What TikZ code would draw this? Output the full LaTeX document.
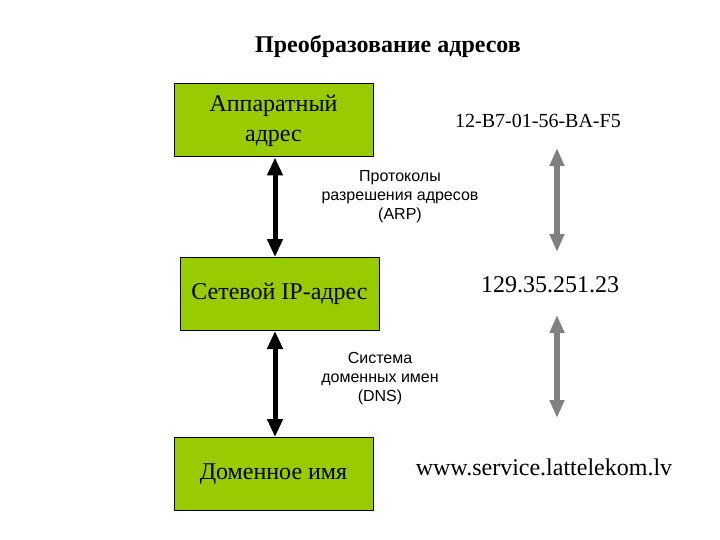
\documentclass[tikz,border=0pt]{standalone}
\usepackage{fontspec}
\setmainfont{Liberation Serif}
\newfontfamily\labelfont{Liberation Sans}
\usetikzlibrary{arrows.meta}
\definecolor{boxgreen}{RGB}{153,204,0}
\definecolor{arrowgray}{RGB}{128,128,128}

\begin{document}
\begin{tikzpicture}[x=1pt,y=-1pt,
    addrbox/.style={draw=black,line width=1pt,fill=boxgreen,minimum width=199pt,
      minimum height=73pt,inner sep=0pt,align=center,font=\fontsize{24}{30}\selectfont},
    layer/.style={align=center,font=\labelfont\fontsize{16}{19}\selectfont},
    addr/.style={font=\fontsize{24}{27}\selectfont},
    link/.style={line width=5pt,{Triangle[width=15pt,length=18pt]}-{Triangle[width=15pt,length=18pt]}},
    equiv/.style={draw=arrowgray,line width=6pt,
      {Triangle[width=14pt,length=18pt]}-{Triangle[width=14pt,length=18pt]}}]
  \useasboundingbox (0,0) rectangle (720,540);
  \fill[white] (0,0) rectangle (720,540);
  \node[font=\bfseries\fontsize{24}{27}\selectfont] (title) at (388,46) {Преобразование адресов};
  % left column: kinds of address
  \node[addrbox] (hw) at (273.5,120.5) {Аппаратный\\адрес};
  \node[addrbox] (ip) at (279.5,294) {Сетевой IP-адрес};
  \node[addrbox] (dn) at (273.5,474) {Доменное имя};
  \node[layer] (arp) at (400,197) {Протоколы\\разрешения адресов\\(ARP)};
  \node[layer] (dns) at (380,379) {Система\\доменных имен\\(DNS)};
  \coordinate (spine) at (275,0);
  \draw[link] (hw.south -| spine) -- (ip.north -| spine);
  \draw[link] (ip.south -| spine) -- (dn.north -| spine);
  % right column: examples
  \node[addr,font=\fontsize{20}{24}\selectfont] (mac) at (538,121) {12-B7-01-56-BA-F5};
  \node[addr] (num) at (550,285) {129.35.251.23};
  \node[addr] (url) at (544,467) {www.service.lattelekom.lv};
  \coordinate (g1) at (557,148);
  \coordinate (g2) at (557,252);
  \coordinate (g3) at (557,315);
  \coordinate (g4) at (557,418);
  \draw[equiv] (g1) -- (g2);
  \draw[equiv] (g3) -- (g4);
\end{tikzpicture}
\end{document}
